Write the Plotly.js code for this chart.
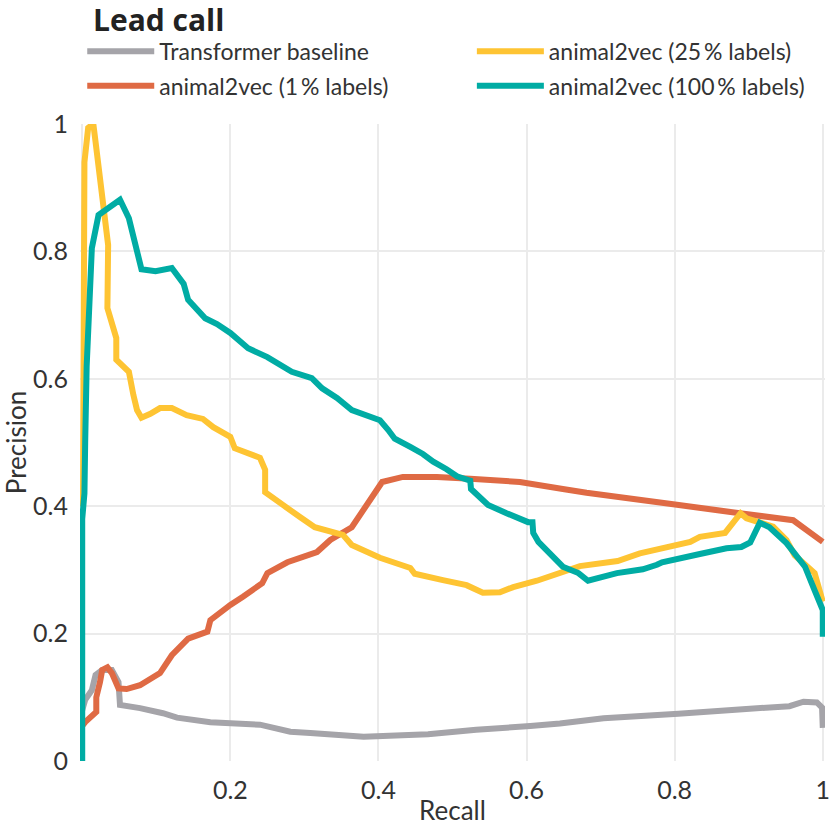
<!DOCTYPE html>
<html>
<head>
<meta charset="utf-8">
<script src="https://cdn.plot.ly/plotly-3.0.1.min.js"></script>
<style>
  html, body { margin: 0; padding: 0; background: #fff; }
  #chart { width: 830px; height: 826px; }
</style>
</head>
<body>
<div id="chart"></div>
<script>
// Precision / recall values
const baseRecall = [0, 0.004, 0.013, 0.018, 0.027, 0.04, 0.049, 0.051, 0.078, 0.109, 0.128, 0.173, 0.24, 0.281, 0.308, 0.38, 0.467, 0.532, 0.605, 0.645, 0.704, 0.805, 0.887, 0.955, 0.974, 0.992, 0.999, 1.0];
const basePrecision = [0.08, 0.096, 0.111, 0.135, 0.143, 0.143, 0.124, 0.088, 0.083, 0.075, 0.068, 0.061, 0.057, 0.046, 0.044, 0.038, 0.042, 0.049, 0.055, 0.059, 0.067, 0.074, 0.081, 0.086, 0.093, 0.092, 0.084, 0.052];

const a1Recall = [0, 0.004, 0.019, 0.019, 0.024, 0.027, 0.034, 0.04, 0.049, 0.06, 0.078, 0.105, 0.121, 0.143, 0.169, 0.173, 0.2, 0.217, 0.243, 0.25, 0.277, 0.317, 0.335, 0.364, 0.405, 0.433, 0.479, 0.524, 0.591, 0.649, 0.681, 0.798, 0.888, 0.96, 1.0];
const a1Precision = [0.055, 0.061, 0.077, 0.1, 0.124, 0.143, 0.147, 0.138, 0.114, 0.113, 0.119, 0.138, 0.166, 0.192, 0.203, 0.221, 0.245, 0.258, 0.279, 0.295, 0.312, 0.328, 0.347, 0.367, 0.438, 0.446, 0.446, 0.443, 0.438, 0.427, 0.421, 0.403, 0.389, 0.378, 0.344];

const a25Recall = [0.001, 0.003, 0.008, 0.015, 0.018, 0.035, 0.034, 0.046, 0.046, 0.063, 0.069, 0.074, 0.08, 0.092, 0.105, 0.121, 0.141, 0.163, 0.177, 0.2, 0.206, 0.24, 0.247, 0.247, 0.271, 0.294, 0.314, 0.352, 0.364, 0.402, 0.443, 0.449, 0.487, 0.519, 0.541, 0.564, 0.582, 0.614, 0.672, 0.723, 0.753, 0.821, 0.834, 0.868, 0.889, 0.897, 0.933, 0.951, 0.962, 0.989, 1.0];
const a25Precision = [0.40, 0.94, 0.994, 1.0, 0.972, 0.81, 0.711, 0.664, 0.63, 0.611, 0.575, 0.551, 0.539, 0.545, 0.554, 0.554, 0.543, 0.537, 0.524, 0.509, 0.491, 0.476, 0.457, 0.422, 0.402, 0.383, 0.367, 0.355, 0.339, 0.319, 0.303, 0.294, 0.284, 0.276, 0.264, 0.265, 0.273, 0.283, 0.306, 0.314, 0.326, 0.344, 0.352, 0.358, 0.389, 0.381, 0.368, 0.347, 0.323, 0.295, 0.25];

const a100Recall = [0, 0, 0.003, 0.004, 0.006, 0.013, 0.022, 0.051, 0.063, 0.08, 0.099, 0.121, 0.137, 0.143, 0.166, 0.182, 0.2, 0.224, 0.25, 0.283, 0.31, 0.324, 0.344, 0.364, 0.402, 0.413, 0.422, 0.443, 0.46, 0.474, 0.492, 0.506, 0.524, 0.525, 0.548, 0.573, 0.602, 0.608, 0.609, 0.616, 0.649, 0.67, 0.683, 0.722, 0.757, 0.776, 0.783, 0.834, 0.87, 0.89, 0.902, 0.915, 0.928, 0.951, 0.976, 0.989, 1.0, 1.0];
const a100Precision = [0, 0.38, 0.42, 0.5, 0.62, 0.805, 0.857, 0.881, 0.852, 0.772, 0.769, 0.774, 0.749, 0.724, 0.695, 0.686, 0.672, 0.648, 0.634, 0.611, 0.601, 0.585, 0.570, 0.551, 0.535, 0.520, 0.506, 0.493, 0.482, 0.47, 0.458, 0.447, 0.44, 0.427, 0.402, 0.389, 0.375, 0.375, 0.358, 0.344, 0.305, 0.295, 0.283, 0.295, 0.301, 0.308, 0.312, 0.325, 0.334, 0.336, 0.343, 0.374, 0.367, 0.342, 0.305, 0.268, 0.237, 0.195];

const xTickVals = [0, 0.2, 0.4, 0.6, 0.8, 1];
const xTickText = ['', '0.2', '0.4', '0.6', '0.8', '1'];
const yTickVals = [0, 0.2, 0.4, 0.6, 0.8, 1];
const yTickText = ['0', '0.2', '0.4', '0.6', '0.8', '1'];

const fontFamily = 'Lato, "Open Sans", sans-serif';
const textColor = '#333333';
const gridColor = '#ebebeb';

function lineTrace(x, y, name, color, legend) {
  return {
    x: x,
    y: y,
    name: name,
    mode: 'lines',
    type: 'scatter',
    legend: legend,
    line: { color: color, width: 6, simplify: false },
    hoverinfo: 'skip',
  };
}

// draw order: baseline, 1 %, 25 %, 100 % on top
var traces = [
  lineTrace(baseRecall, basePrecision, 'Transformer baseline', '#a5a4a9', 'legend'),
  lineTrace(a1Recall, a1Precision, 'animal2vec (1\u2009% labels)', '#df6a44', 'legend3'),
  lineTrace(a25Recall, a25Precision, 'animal2vec (25\u2009% labels)', '#fec433', 'legend2'),
  lineTrace(a100Recall, a100Precision, 'animal2vec (100\u2009% labels)', '#00aca4', 'legend4'),
];

// one legend per entry so the 2x2 grid can be placed freely
function legendAt(x, y) {
  return {
    x: x,
    y: y,
    xanchor: 'left',
    yanchor: 'middle',
    itemwidth: 67,
    bgcolor: 'rgba(0,0,0,0)',
    font: { family: fontFamily, size: 23, color: textColor },
  };
}

var layout = {
  width: 830,
  height: 826,
  margin: { l: 80, r: 5, t: 124, b: 65, pad: 0 },
  paper_bgcolor: '#ffffff',
  plot_bgcolor: '#ffffff',
  font: { family: fontFamily, size: 25, color: textColor },
  title: {
    text: '<b>Lead call</b>',
    font: { family: '"Open Sans", sans-serif', size: 30, color: '#222222' },
    x: 93 / 830,
    xanchor: 'left',
    xref: 'container',
    y: 1 - 20 / 826,
    yanchor: 'middle',
  },
  showlegend: true,
  legend: legendAt(0.003, 1.114),
  legend2: legendAt(0.526, 1.114),
  legend3: legendAt(0.003, 1.06),
  legend4: legendAt(0.526, 1.06),
  xaxis: {
    range: [-0.003, 1.003],
    tickvals: xTickVals,
    ticktext: xTickText,
    showgrid: true,
    gridcolor: gridColor,
    gridwidth: 2,
    zeroline: false,
    showline: false,
    ticks: 'outside',
    ticklen: 7,
    tickcolor: 'rgba(0,0,0,0)',
    ticklabeloverflow: 'allow',
    tickfont: { size: 25, color: textColor },
    title: { text: 'Recall', font: { size: 26, color: textColor }, standoff: 8 },
  },
  yaxis: {
    range: [0, 1],
    tickvals: yTickVals,
    ticktext: yTickText,
    showgrid: true,
    gridcolor: gridColor,
    gridwidth: 2,
    zeroline: false,
    showline: false,
    ticks: 'outside',
    ticklen: 6,
    tickcolor: 'rgba(0,0,0,0)',
    tickfont: { size: 25, color: textColor },
    title: { text: 'Precision', font: { size: 26, color: textColor }, standoff: 12 },
  },
};

var config = { responsive: false, displayModeBar: false, staticPlot: true };

Plotly.newPlot('chart', traces, layout, config);
</script>
</body>
</html>
